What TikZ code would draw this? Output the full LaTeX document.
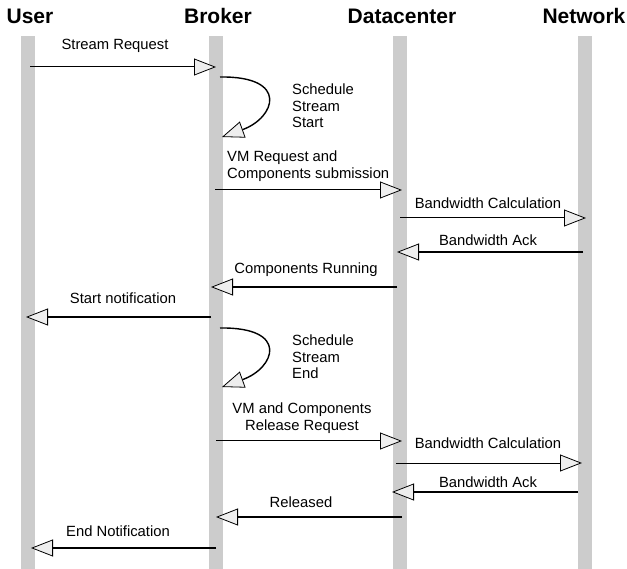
\documentclass[tikz,border=0pt]{standalone}
\usepackage{fontspec}
\setmainfont{Liberation Sans}
\usetikzlibrary{arrows.meta}
\definecolor{lifegray}{HTML}{CCCCCC}
\definecolor{tipfill}{HTML}{EEEEEE}
\begin{document}
\begin{tikzpicture}[x=1pt,y=-1pt,
  lifeline/.style={fill=lifegray,draw=none,minimum width=14pt,minimum height=533pt,inner sep=0pt,anchor=north},
  header/.style={font=\fontsize{21}{24}\selectfont\bfseries,inner sep=0pt},
  lbl/.style={font=\fontsize{14.8}{16.5}\selectfont,inner sep=0pt},
  msg/.style={line width=1pt,-{Triangle[length=22pt,width=17pt,fill=tipfill,line width=0.8pt]}},
  retmsg/.style={line width=1.4pt,-{Triangle[length=22pt,width=17pt,fill=tipfill,line width=0.8pt]}}]
\useasboundingbox (0,0) rectangle (627,569);
% lifelines
\node[lifeline] (user) at (28,36) {};
\node[lifeline] (broker) at (215.5,36) {};
\node[lifeline] (dc) at (400,36) {};
\node[lifeline] (net) at (584.5,36) {};
% headers
\node[header] (huser) at (30,16) {User};
\node[header] (hbroker) at (218,16) {Broker};
\node[header] (hdc) at (402,16) {Datacenter};
\node[header] (hnet) at (584,16) {Network};
% endpoints
\coordinate (m1s) at (30,67);   \coordinate (m1e) at (216,67);
\coordinate (l1s) at (220,77);  \coordinate (l1e) at (222,137);
\coordinate (m3s) at (215,190); \coordinate (m3e) at (402,190);
\coordinate (m4s) at (400,218); \coordinate (m4e) at (586,218);
\coordinate (m5s) at (583,252); \coordinate (m5e) at (397,252);
\coordinate (m6s) at (397,287); \coordinate (m6e) at (211,287);
\coordinate (m7s) at (211,317); \coordinate (m7e) at (26,317);
\coordinate (l2s) at (220,328); \coordinate (l2e) at (222,387);
\coordinate (m9s) at (216,441); \coordinate (m9e) at (402,441);
\coordinate (m10s) at (396,463); \coordinate (m10e) at (582,463);
\coordinate (m11s) at (578,492); \coordinate (m11e) at (392,492);
\coordinate (m12s) at (402,517); \coordinate (m12e) at (216,517);
\coordinate (m13s) at (216,548); \coordinate (m13e) at (31,548);
% messages
\draw[msg] (m1s) -- (m1e);
\node[lbl] (t1) at (115,46) {Stream Request};
\draw[retmsg] (l1s) .. controls (290,76) and (275,118) .. (l1e);
\node[lbl,align=left,anchor=west] (t2) at (292,106) {Schedule\\Stream\\Start};
\draw[msg] (m3s) -- (m3e);
\node[lbl,align=left,anchor=west] (t3) at (227,166) {VM Request and\\Components submission};
\draw[msg] (m4s) -- (m4e);
\node[lbl] (t4) at (488,203) {Bandwidth Calculation};
\draw[retmsg] (m5s) -- (m5e);
\node[lbl] (t5) at (488,240) {Bandwidth Ack};
\draw[retmsg] (m6s) -- (m6e);
\node[lbl] (t6) at (306,270) {Components Running};
\draw[retmsg] (m7s) -- (m7e);
\node[lbl] (t7) at (123,298) {Start notification};
\draw[retmsg] (l2s) .. controls (290,327) and (275,368) .. (l2e);
\node[lbl,align=left,anchor=west] (t8) at (292,357) {Schedule\\Stream\\End};
\draw[msg] (m9s) -- (m9e);
\node[lbl,align=center] (t9) at (302,418) {VM and Components\\Release Request};
\draw[msg] (m10s) -- (m10e);
\node[lbl] (t10) at (488,443) {Bandwidth Calculation};
\draw[retmsg] (m11s) -- (m11e);
\node[lbl] (t11) at (488,482) {Bandwidth Ack};
\draw[retmsg] (m12s) -- (m12e);
\node[lbl] (t12) at (301,502) {Released};
\draw[retmsg] (m13s) -- (m13e);
\node[lbl] (t13) at (118,531) {End Notification};
\end{tikzpicture}
\end{document}
